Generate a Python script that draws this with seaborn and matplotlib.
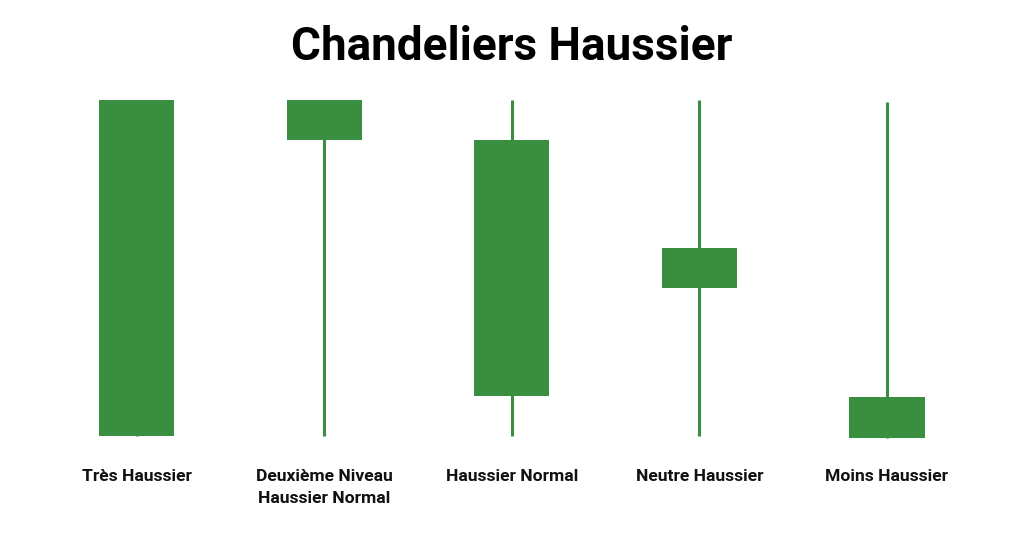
import matplotlib
matplotlib.use("Agg")
import matplotlib.pyplot as plt
import seaborn as sns
import pandas as pd

# ----- Data -----
labels = ["Très Haussier", "Deuxième Niveau\nHaussier Normal", "Haussier Normal",
          "Neutre Haussier", "Moins Haussier"]
opens = [0, 88, 12, 44, -0.5]
closes = [100, 100, 88, 56, 11.5]
highs = [100, 100, 100, 100, 99.5]
lows = [0, 0, 0, 0, -0.5]

df = pd.DataFrame({"label": labels, "open": opens, "close": closes,
                   "high": highs, "low": lows})
df["pos"] = range(len(df))

sns.set_theme(style="white")
plt.rcParams["font.family"] = ["Roboto", "DejaVu Sans"]

green = "#3a8e3f"

fig = plt.figure(figsize=(10.24, 5.36), dpi=100)
ax = fig.add_axes([0, 0, 1, 1])

# wicks
ax.vlines(df["pos"], df["low"], df["high"], color=green, linewidth=2.2, zorder=1)
# bodies
ax.bar(df["pos"], df["close"] - df["open"], bottom=df["open"], width=0.4,
       color=green, edgecolor="none", zorder=2)

ax.set_xlim(-137 / 187.5, (1024 - 137) / 187.5)
ax.set_ylim((436 - 536) / 3.36, 436 / 3.36)
ax.axis("off")

for i, row in df.iterrows():
    ax.text(row["pos"], -9.9, row["label"], ha="center", va="top",
            fontsize=12.6, fontweight="bold", color="#111111", linespacing=1.55)

fig.text(0.5, 1 - 47 / 536, "Chandeliers Haussier", ha="center", va="center",
         fontsize=33, fontweight="bold", color="black")

plt.savefig("out.png", dpi=100)
